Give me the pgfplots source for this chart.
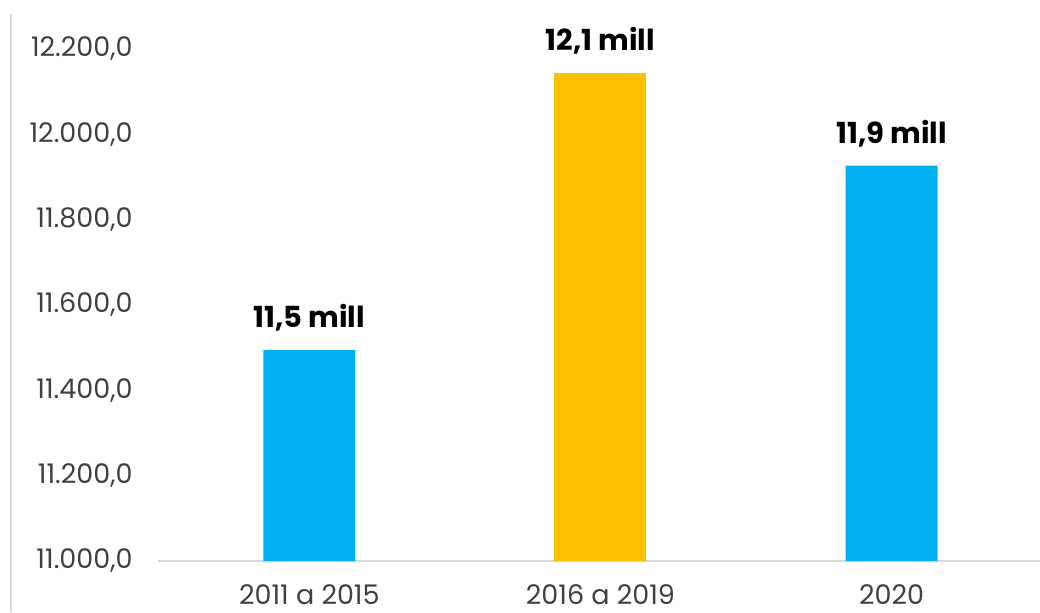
\documentclass[border=0pt]{standalone}
\usepackage{fontspec}
\setmainfont{Poppins}
\usepackage{pgfplots}
\pgfplotsset{compat=1.18}
\definecolor{barblue}{HTML}{00B0F0}
\definecolor{bargold}{HTML}{FFC000}
\definecolor{ticktext}{HTML}{404040}
\definecolor{axisgray}{HTML}{D9D9D9}

\begin{document}
\begin{tikzpicture}
    \useasboundingbox (0,0) rectangle (520pt,306pt);
    % thin border remnant on the left
    \draw[axisgray, line width=0.8pt] (5.5pt,0) -- (5.5pt,299pt);
    \begin{axis}[
        at={(79pt,25.5pt)},
        anchor=south west,
        scale only axis,
        width=441pt,
        height=277.5pt,
        xmin=-0.52, xmax=2.51,
        ymin=11000, ymax=12300,
        xtick={0,1,2},
        xticklabels={2011 a 2015, 2016 a 2019, 2020},
        ytick={11000,11200,11400,11600,11800,12000,12200},
        scaled y ticks=false,
        major tick length=0pt,
        axis x line*=bottom,
        axis y line*=left,
        y axis line style={draw=none},
        x axis line style={draw=axisgray, line width=1pt, -},
        /pgf/number format/.cd, fixed, fixed zerofill, precision=1,
            use comma, 1000 sep={.}, assume math mode=true,
        /pgfplots/.cd,
        ticklabel style={font=\fontsize{13.5}{15}\selectfont, text=ticktext},
        y tick label style={anchor=east, inner sep=0pt, xshift=-12.5pt},
        x tick label style={anchor=base, inner sep=0pt, yshift=-21.5pt},
        nodes near coords,
        point meta=explicit symbolic,
        nodes near coords style={font=\fontsize{14.5}{17}\selectfont\bfseries,
            text=black, anchor=center, yshift=16pt},
        clip=false,
    ]
    \addplot[ybar, bar width=46pt, bar shift=0pt, fill=barblue, draw=none]
        coordinates {(0,11494) [11,5 mill] (2,11926) [11,9 mill]};
    \addplot[ybar, bar width=46pt, bar shift=0pt, fill=bargold, draw=none]
        coordinates {(1,12144) [12,1 mill]};
    \end{axis}
\end{tikzpicture}
\end{document}
